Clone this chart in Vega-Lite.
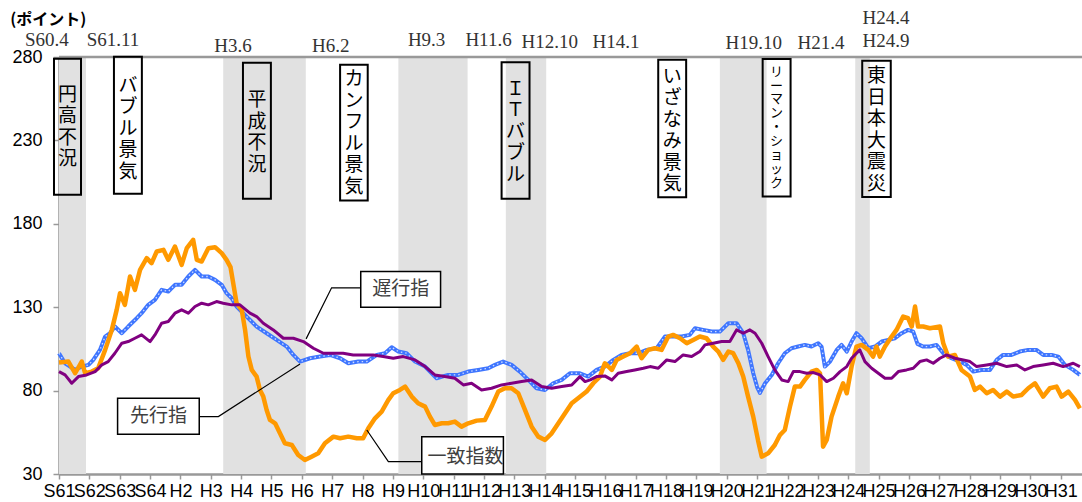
{
  "$schema": "https://vega.github.io/schema/vega-lite/v6.json",
  "width": 1023,
  "height": 417,
  "autosize": "none",
  "padding": {"left": 59, "top": 57, "right": 0, "bottom": 28},
  "background": "white",
  "config": {"view": {"stroke": null}},
  "datasets": {
    "coincident": [
      {"t":1986.0,"v":96.8},{"t":1986.31,"v":97.4},{"t":1986.53,"v":90.4},{"t":1986.75,"v":97.4},{"t":1986.86,"v":90.4},{"t":1987.08,"v":91.4},{"t":1987.29,"v":93.4},{"t":1987.52,"v":104.4},{"t":1987.74,"v":116.4},{"t":1987.9,"v":128.4},{"t":1988.01,"v":138.4},{"t":1988.17,"v":131.4},{"t":1988.34,"v":148.4},{"t":1988.5,"v":140.4},{"t":1988.67,"v":152.4},{"t":1988.89,"v":159.4},{"t":1989.05,"v":156.4},{"t":1989.22,"v":163.4},{"t":1989.44,"v":164.4},{"t":1989.6,"v":158.4},{"t":1989.82,"v":166.4},{"t":1990.04,"v":155.4},{"t":1990.21,"v":165.4},{"t":1990.42,"v":170.4},{"t":1990.54,"v":158.4},{"t":1990.7,"v":157.4},{"t":1990.92,"v":165.4},{"t":1991.14,"v":166},{"t":1991.36,"v":162.4},{"t":1991.52,"v":158.4},{"t":1991.65,"v":154},{"t":1991.85,"v":132.4},{"t":1992.02,"v":128.4},{"t":1992.13,"v":116.4},{"t":1992.24,"v":100.4},{"t":1992.35,"v":92.4},{"t":1992.51,"v":88.4},{"t":1992.62,"v":80.4},{"t":1992.73,"v":76.4},{"t":1992.84,"v":68.4},{"t":1992.95,"v":62.4},{"t":1993.12,"v":60.4},{"t":1993.28,"v":54.4},{"t":1993.44,"v":48.4},{"t":1993.67,"v":47.4},{"t":1993.88,"v":41.4},{"t":1994.1,"v":38.4},{"t":1994.32,"v":40.4},{"t":1994.54,"v":42.4},{"t":1994.76,"v":48.4},{"t":1995.04,"v":52.4},{"t":1995.26,"v":51.4},{"t":1995.53,"v":52.4},{"t":1995.81,"v":51.4},{"t":1996.02,"v":51.4},{"t":1996.19,"v":57.4},{"t":1996.41,"v":63.4},{"t":1996.63,"v":67.4},{"t":1996.85,"v":74.4},{"t":1997.01,"v":78.4},{"t":1997.23,"v":80.4},{"t":1997.4,"v":82.4},{"t":1997.62,"v":76.4},{"t":1997.83,"v":72.4},{"t":1998.06,"v":70.4},{"t":1998.22,"v":64.4},{"t":1998.38,"v":59.4},{"t":1998.61,"v":60.4},{"t":1998.82,"v":60.4},{"t":1999.04,"v":61.4},{"t":1999.26,"v":58.4},{"t":1999.48,"v":60.4},{"t":1999.76,"v":62},{"t":2000.03,"v":62.4},{"t":2000.25,"v":70.4},{"t":2000.47,"v":79.4},{"t":2000.69,"v":81.4},{"t":2000.91,"v":81.4},{"t":2001.13,"v":78.4},{"t":2001.35,"v":68.4},{"t":2001.57,"v":58.4},{"t":2001.79,"v":52.4},{"t":2002.01,"v":50.4},{"t":2002.23,"v":54.4},{"t":2002.45,"v":60.4},{"t":2002.67,"v":66.4},{"t":2002.89,"v":72.4},{"t":2003.1,"v":75.4},{"t":2003.38,"v":79.4},{"t":2003.6,"v":84.4},{"t":2003.82,"v":88.4},{"t":2003.98,"v":96.4},{"t":2004.21,"v":92.4},{"t":2004.37,"v":98.4},{"t":2004.59,"v":100.4},{"t":2004.81,"v":102.4},{"t":2005.03,"v":106.4},{"t":2005.19,"v":99.4},{"t":2005.41,"v":104.4},{"t":2005.63,"v":105.4},{"t":2005.85,"v":104.4},{"t":2006.07,"v":112.4},{"t":2006.23,"v":113.4},{"t":2006.46,"v":111.4},{"t":2006.68,"v":108.4},{"t":2006.89,"v":110.4},{"t":2007.11,"v":112.4},{"t":2007.33,"v":111.4},{"t":2007.55,"v":106.4},{"t":2007.72,"v":103.4},{"t":2007.88,"v":98.4},{"t":2008.05,"v":103.4},{"t":2008.21,"v":102.4},{"t":2008.38,"v":96.4},{"t":2008.54,"v":88.4},{"t":2008.7,"v":76.4},{"t":2008.87,"v":64.4},{"t":2009.03,"v":50},{"t":2009.15,"v":40.4},{"t":2009.36,"v":42.4},{"t":2009.58,"v":47.4},{"t":2009.75,"v":53.4},{"t":2009.91,"v":56.4},{"t":2010.08,"v":70.4},{"t":2010.24,"v":82.4},{"t":2010.41,"v":82.4},{"t":2010.57,"v":86.4},{"t":2010.79,"v":91.4},{"t":2010.96,"v":92.4},{"t":2011.07,"v":90.4},{"t":2011.17,"v":46.4},{"t":2011.29,"v":50.4},{"t":2011.45,"v":64.4},{"t":2011.67,"v":76.4},{"t":2011.83,"v":84.4},{"t":2011.95,"v":78.4},{"t":2012.11,"v":94.4},{"t":2012.27,"v":106.4},{"t":2012.44,"v":107.4},{"t":2012.66,"v":104.4},{"t":2012.82,"v":100.4},{"t":2012.93,"v":106.4},{"t":2013.04,"v":100.4},{"t":2013.21,"v":106.4},{"t":2013.43,"v":112.4},{"t":2013.59,"v":116.4},{"t":2013.81,"v":124.4},{"t":2013.97,"v":123.4},{"t":2014.09,"v":118.4},{"t":2014.2,"v":130.4},{"t":2014.3,"v":118.4},{"t":2014.47,"v":118.4},{"t":2014.69,"v":117.4},{"t":2015.02,"v":118.4},{"t":2015.13,"v":108.4},{"t":2015.29,"v":100.4},{"t":2015.51,"v":101.4},{"t":2015.73,"v":92.4},{"t":2016.01,"v":88.4},{"t":2016.17,"v":80.4},{"t":2016.34,"v":82.4},{"t":2016.56,"v":78.4},{"t":2016.77,"v":80.4},{"t":2017.0,"v":76.4},{"t":2017.22,"v":79.4},{"t":2017.43,"v":76.4},{"t":2017.71,"v":77.4},{"t":2017.93,"v":81.4},{"t":2018.15,"v":84.4},{"t":2018.42,"v":76.4},{"t":2018.64,"v":81.4},{"t":2018.86,"v":82.4},{"t":2019.03,"v":76.4},{"t":2019.25,"v":79.4},{"t":2019.47,"v":74.4},{"t":2019.63,"v":69.4}
    ],
    "leading": [
      {"t":1986.0,"v":102.4},{"t":1986.2,"v":96.4},{"t":1986.53,"v":92.4},{"t":1986.75,"v":94.4},{"t":1986.97,"v":95.4},{"t":1987.13,"v":98.4},{"t":1987.35,"v":104.4},{"t":1987.52,"v":112.4},{"t":1987.68,"v":114.4},{"t":1987.84,"v":118.4},{"t":1988.07,"v":114.4},{"t":1988.28,"v":118.4},{"t":1988.56,"v":123.4},{"t":1988.72,"v":126.4},{"t":1988.94,"v":131.4},{"t":1989.16,"v":134.4},{"t":1989.38,"v":140.4},{"t":1989.6,"v":139.4},{"t":1989.82,"v":143.4},{"t":1990.04,"v":143.4},{"t":1990.26,"v":148.4},{"t":1990.48,"v":152.4},{"t":1990.7,"v":148.4},{"t":1990.92,"v":148.4},{"t":1991.14,"v":146.4},{"t":1991.36,"v":143.4},{"t":1991.52,"v":138.4},{"t":1991.69,"v":135.4},{"t":1991.85,"v":130.4},{"t":1992.18,"v":124.4},{"t":1992.51,"v":118.4},{"t":1992.84,"v":114.4},{"t":1993.17,"v":110.4},{"t":1993.5,"v":106.4},{"t":1993.72,"v":101.4},{"t":1993.94,"v":97.4},{"t":1994.27,"v":99.4},{"t":1994.6,"v":100.4},{"t":1994.93,"v":101.4},{"t":1995.26,"v":99.4},{"t":1995.53,"v":96.4},{"t":1995.86,"v":97.4},{"t":1996.14,"v":97.4},{"t":1996.47,"v":101.4},{"t":1996.74,"v":102.4},{"t":1996.96,"v":106},{"t":1997.18,"v":103.4},{"t":1997.45,"v":102.4},{"t":1997.73,"v":97.4},{"t":1998.06,"v":94.4},{"t":1998.44,"v":87.4},{"t":1998.82,"v":89.4},{"t":1999.15,"v":89.4},{"t":1999.48,"v":91.4},{"t":1999.81,"v":92.4},{"t":2000.14,"v":93.4},{"t":2000.36,"v":95.4},{"t":2000.63,"v":97.4},{"t":2000.91,"v":95.4},{"t":2001.18,"v":91.4},{"t":2001.46,"v":86.4},{"t":2001.73,"v":81.4},{"t":2002.01,"v":80.4},{"t":2002.28,"v":84.4},{"t":2002.56,"v":86.4},{"t":2002.83,"v":90.4},{"t":2003.16,"v":90.4},{"t":2003.43,"v":88.4},{"t":2003.71,"v":92.4},{"t":2003.98,"v":94.4},{"t":2004.26,"v":98.4},{"t":2004.53,"v":101.4},{"t":2004.81,"v":102.4},{"t":2005.08,"v":102.4},{"t":2005.36,"v":104.4},{"t":2005.69,"v":105.4},{"t":2005.96,"v":112.4},{"t":2006.23,"v":112.4},{"t":2006.51,"v":112.4},{"t":2006.78,"v":113.4},{"t":2006.95,"v":117.4},{"t":2007.22,"v":116.4},{"t":2007.5,"v":115.4},{"t":2007.77,"v":115.4},{"t":2008.05,"v":120.4},{"t":2008.32,"v":120.4},{"t":2008.54,"v":114.4},{"t":2008.7,"v":104.4},{"t":2008.87,"v":90.4},{"t":2009.0,"v":82},{"t":2009.09,"v":78.6},{"t":2009.26,"v":84.4},{"t":2009.48,"v":89.4},{"t":2009.69,"v":96.4},{"t":2009.91,"v":102.4},{"t":2010.13,"v":105.4},{"t":2010.35,"v":106.4},{"t":2010.57,"v":107.4},{"t":2010.79,"v":106.4},{"t":2011.01,"v":108.4},{"t":2011.12,"v":106.4},{"t":2011.23,"v":94.4},{"t":2011.4,"v":97.4},{"t":2011.62,"v":104.4},{"t":2011.78,"v":107.4},{"t":2011.95,"v":103.4},{"t":2012.11,"v":109.4},{"t":2012.27,"v":114.4},{"t":2012.44,"v":111.4},{"t":2012.66,"v":105.4},{"t":2012.88,"v":106.4},{"t":2013.1,"v":109.4},{"t":2013.32,"v":110.4},{"t":2013.54,"v":111.4},{"t":2013.76,"v":114.4},{"t":2013.97,"v":116.4},{"t":2014.14,"v":115.4},{"t":2014.28,"v":108},{"t":2014.47,"v":106.4},{"t":2014.69,"v":106.4},{"t":2014.91,"v":107.4},{"t":2015.13,"v":102.4},{"t":2015.4,"v":99.4},{"t":2015.68,"v":97.4},{"t":2015.9,"v":95.4},{"t":2016.12,"v":91.4},{"t":2016.39,"v":92.4},{"t":2016.67,"v":92.4},{"t":2016.89,"v":98.4},{"t":2017.1,"v":101.4},{"t":2017.38,"v":101.4},{"t":2017.65,"v":103.4},{"t":2017.93,"v":104.4},{"t":2018.2,"v":104.4},{"t":2018.42,"v":101.4},{"t":2018.7,"v":101.4},{"t":2018.92,"v":100.4},{"t":2019.14,"v":95.4},{"t":2019.41,"v":92.4},{"t":2019.63,"v":89.4}
    ],
    "lagging": [
      {"t":1986.0,"v":91.4},{"t":1986.2,"v":89.4},{"t":1986.42,"v":84.4},{"t":1986.64,"v":88.4},{"t":1986.91,"v":89.4},{"t":1987.19,"v":91.4},{"t":1987.41,"v":95.4},{"t":1987.62,"v":97.4},{"t":1987.84,"v":102.4},{"t":1988.07,"v":108.4},{"t":1988.28,"v":109.4},{"t":1988.5,"v":111.4},{"t":1988.72,"v":113.4},{"t":1989.0,"v":109.4},{"t":1989.16,"v":113.4},{"t":1989.38,"v":120.4},{"t":1989.6,"v":121.4},{"t":1989.82,"v":126.4},{"t":1990.04,"v":128.4},{"t":1990.26,"v":126.4},{"t":1990.48,"v":130.4},{"t":1990.7,"v":132.4},{"t":1990.92,"v":131.4},{"t":1991.19,"v":133.4},{"t":1991.41,"v":132.4},{"t":1991.69,"v":131.4},{"t":1991.96,"v":131.4},{"t":1992.29,"v":126.4},{"t":1992.51,"v":124.4},{"t":1992.73,"v":120.4},{"t":1993.06,"v":116.4},{"t":1993.39,"v":111.4},{"t":1993.72,"v":111.4},{"t":1994.05,"v":109.4},{"t":1994.38,"v":105.4},{"t":1994.71,"v":102.4},{"t":1995.04,"v":102.4},{"t":1995.36,"v":102.4},{"t":1995.69,"v":101.4},{"t":1996.02,"v":101.4},{"t":1996.35,"v":101.4},{"t":1996.68,"v":100.4},{"t":1997.01,"v":99.4},{"t":1997.34,"v":100.4},{"t":1997.73,"v":98.4},{"t":1998.06,"v":94.4},{"t":1998.38,"v":89.4},{"t":1998.71,"v":88.4},{"t":1999.04,"v":87.4},{"t":1999.32,"v":83.4},{"t":1999.59,"v":84.4},{"t":1999.92,"v":80.4},{"t":2000.25,"v":81.4},{"t":2000.58,"v":83.4},{"t":2000.91,"v":84.4},{"t":2001.24,"v":85.4},{"t":2001.57,"v":86.4},{"t":2001.9,"v":82.4},{"t":2002.23,"v":81.4},{"t":2002.56,"v":82.4},{"t":2002.89,"v":83.4},{"t":2003.16,"v":88.4},{"t":2003.33,"v":85.4},{"t":2003.5,"v":86.4},{"t":2003.71,"v":88.4},{"t":2003.98,"v":88.8},{"t":2004.21,"v":86.4},{"t":2004.42,"v":90.4},{"t":2004.7,"v":91.4},{"t":2004.97,"v":92.4},{"t":2005.25,"v":93.4},{"t":2005.47,"v":94.4},{"t":2005.74,"v":93.4},{"t":2006.02,"v":98.4},{"t":2006.29,"v":97.4},{"t":2006.56,"v":101.4},{"t":2006.84,"v":100.4},{"t":2007.11,"v":103.4},{"t":2007.28,"v":107.4},{"t":2007.55,"v":108.4},{"t":2007.83,"v":109.4},{"t":2008.1,"v":109.4},{"t":2008.32,"v":116.4},{"t":2008.54,"v":114.4},{"t":2008.76,"v":116.4},{"t":2008.93,"v":114.4},{"t":2009.15,"v":108.4},{"t":2009.36,"v":100.4},{"t":2009.58,"v":92.4},{"t":2009.81,"v":86.4},{"t":2010.02,"v":85.4},{"t":2010.19,"v":91.4},{"t":2010.41,"v":91.4},{"t":2010.63,"v":90.4},{"t":2010.85,"v":90.8},{"t":2011.07,"v":89.4},{"t":2011.29,"v":85.4},{"t":2011.51,"v":87.4},{"t":2011.73,"v":91.4},{"t":2011.95,"v":94.4},{"t":2012.11,"v":99.4},{"t":2012.38,"v":104.4},{"t":2012.55,"v":97.4},{"t":2012.77,"v":93.4},{"t":2012.99,"v":90.4},{"t":2013.21,"v":87.4},{"t":2013.43,"v":87.4},{"t":2013.65,"v":91.4},{"t":2013.92,"v":92.4},{"t":2014.14,"v":93.4},{"t":2014.36,"v":97.4},{"t":2014.58,"v":98.4},{"t":2014.8,"v":96.4},{"t":2015.02,"v":99.4},{"t":2015.24,"v":101.4},{"t":2015.51,"v":99.4},{"t":2015.79,"v":98.4},{"t":2016.01,"v":97.4},{"t":2016.23,"v":94.4},{"t":2016.56,"v":95.4},{"t":2016.89,"v":96.4},{"t":2017.22,"v":94.4},{"t":2017.55,"v":95.4},{"t":2017.82,"v":92.4},{"t":2018.09,"v":94.4},{"t":2018.42,"v":95.4},{"t":2018.75,"v":96.4},{"t":2019.08,"v":94.4},{"t":2019.41,"v":96.4},{"t":2019.63,"v":94.4}
    ],
    "recessions": [
      {"t":1986.0,"t2":1986.89,"v":30,"v2":280},
      {"t":1991.41,"t2":1994.13,"v":30,"v2":280},
      {"t":1997.18,"t2":1999.46,"v":30,"v2":280},
      {"t":2000.72,"t2":2002.05,"v":30,"v2":280},
      {"t":2007.77,"t2":2009.31,"v":30,"v2":280},
      {"t":2012.23,"t2":2012.71,"v":30,"v2":280}
    ],
    "topLine": [
      {"t":1986.0,"v":280},{"t":2019.7,"v":280}
    ],
    "periodLabels": [
      {"t":1985.6,"v":290.4,"label":"S60.4"},
      {"t":1987.78,"v":290.4,"label":"S61.11"},
      {"t":1991.73,"v":286.8,"label":"H3.6"},
      {"t":1994.95,"v":286.8,"label":"H6.2"},
      {"t":1998.11,"v":290.4,"label":"H9.3"},
      {"t":2000.15,"v":290.4,"label":"H11.6"},
      {"t":2002.17,"v":288.9,"label":"H12.10"},
      {"t":2004.35,"v":289.2,"label":"H14.1"},
      {"t":2008.89,"v":288.6,"label":"H19.10"},
      {"t":2011.1,"v":288.6,"label":"H21.4"},
      {"t":2013.24,"v":303.4,"label":"H24.4"},
      {"t":2013.24,"v":289.4,"label":"H24.9"}
    ],
    "eventBoxes": [
      {"t":1985.835,"t2":1986.725,"v":279,"v2":197.4},
      {"t":1987.81,"t2":1988.73,"v":280.2,"v2":198},
      {"t":1992.06,"t2":1992.98,"v":276.6,"v2":195},
      {"t":1995.26,"t2":1996.17,"v":275.4,"v2":194},
      {"t":2000.58,"t2":2001.5,"v":276.8,"v2":195},
      {"t":2005.74,"t2":2006.66,"v":278.4,"v2":195.9},
      {"t":2009.18,"t2":2010.1,"v":278.8,"v2":196.4},
      {"t":2012.46,"t2":2013.4,"v":277.8,"v2":196}
    ],
    "eventText": [
      {"t":1986.28,"v":257.25,"label":"円\n高\n不\n況"},
      {"t":1988.27,"v":262.8,"label":"バ\nブ\nル\n景\n気"},
      {"t":1992.52,"v":253.95,"label":"平\n成\n不\n況"},
      {"t":1995.72,"v":266.55,"label":"カ\nン\nフ\nル\n景\n気"},
      {"t":2001.04,"v":261,"label":"Ｉ\nＴ\nバ\nブ\nル"},
      {"t":2006.2,"v":268.05,"label":"い\nざ\nな\nみ\n景\n気"},
      {"t":2012.93,"v":268.35,"label":"東\n日\n本\n大\n震\n災"}
    ],
    "eventTextSmall": [
      {"t":2009.64,"v":271.2,"label":"リ\nー\nマ\nン\n・\nシ\nョ\nッ\nク"}
    ],
    "calloutBoxes": [
      {"t":1995.94,"t2":1998.57,"v":151.4,"v2":130},
      {"t":1987.93,"t2":1990.62,"v":75.4,"v2":53.8},
      {"t":1997.95,"t2":2000.64,"v":52.4,"v2":30}
    ],
    "calloutText": [
      {"t":1997.26,"v":140.7,"label":"遅行指"},
      {"t":1989.28,"v":64.6,"label":"先行指"},
      {"t":1999.39,"v":40.4,"label":"一致指数"}
    ],
    "leaders": [
      {"id":"a","o":1,"t":1995.94,"v":141.6},
      {"id":"a","o":2,"t":1994.98,"v":141.6},
      {"id":"a","o":3,"t":1994.14,"v":111},
      {"id":"b","o":1,"t":1990.62,"v":64.4},
      {"id":"b","o":2,"t":1991.25,"v":64.4},
      {"id":"b","o":3,"t":1993.94,"v":96},
      {"id":"c","o":1,"t":1997.95,"v":37.4},
      {"id":"c","o":2,"t":1996.85,"v":37.4},
      {"id":"c","o":3,"t":1996.14,"v":56.4}
    ],
    "unit": [
      {"t":1984.39,"v":302.4,"label":"(ポイント)"}
    ]
  },
  "encoding": {
    "x": {
      "field": "t", "type": "quantitative",
      "scale": {"domain": [1986, 2019.7], "nice": false, "zero": false},
      "axis": {
        "title": null, "values": [1986,1987,1988,1989,1990,1991,1992,1993,1994,1995,1996,1997,1998,1999,2000,2001,2002,2003,2004,2005,2006,2007,2008,2009,2010,2011,2012,2013,2014,2015,2016,2017,2018,2019],
        "labelExpr": "datum.value < 1989.5 ? 'S' + (datum.value - 1925) : 'H' + (datum.value - 1988)",
        "labelOverlap": false, "labelBound": false, "labelFlush": false,
        "labelFont": "Liberation Sans", "labelFontSize": 18, "labelColor": "#000000",
        "labelPadding": 3, "tickSize": 5, "tickColor": "#999999", "tickWidth": 1.5,
        "domainColor": "#999999", "domainWidth": 2.5, "grid": false
      }
    },
    "y": {
      "field": "v", "type": "quantitative",
      "scale": {"domain": [30, 280], "nice": false, "zero": false},
      "axis": {
        "title": null, "values": [30,80,130,180,230,280],
        "labelFont": "Liberation Sans", "labelFontSize": 18, "labelColor": "#000000",
        "labelPadding": 11, "tickSize": 6, "tickColor": "#999999", "tickWidth": 1.5,
        "domainColor": "#999999", "domainWidth": 2.5, "grid": false
      }
    }
  },
  "layer": [
    {
      "data": {"name": "recessions"},
      "mark": {"type": "rect", "fill": "#e1e1e1"},
      "encoding": {"x2": {"field": "t2"}, "y2": {"field": "v2"}}
    },
    {
      "data": {"name": "topLine"},
      "mark": {"type": "line", "color": "#999999", "strokeWidth": 2.5}
    },
    {
      "data": {"name": "leading"},
      "mark": {"type": "line", "color": "#3f76ff", "strokeWidth": 4, "strokeJoin": "round"}
    },
    {
      "data": {"name": "leading"},
      "mark": {"type": "line", "color": "#ffffff", "strokeWidth": 1.3, "strokeDash": [1.5, 3], "opacity": 0.75}
    },
    {
      "data": {"name": "coincident"},
      "mark": {"type": "line", "color": "#ff9900", "strokeWidth": 4.5, "strokeJoin": "round"}
    },
    {
      "data": {"name": "lagging"},
      "mark": {"type": "line", "color": "#800080", "strokeWidth": 3, "strokeJoin": "round"}
    },
    {
      "data": {"name": "eventBoxes"},
      "mark": {"type": "rect", "fill": null, "stroke": "#000000", "strokeWidth": 2},
      "encoding": {"x2": {"field": "t2"}, "y2": {"field": "v2"}}
    },
    {
      "data": {"name": "eventText"},
      "mark": {"type": "text", "font": "Noto Sans CJK JP", "fontSize": 19, "lineHeight": 21.5, "lineBreak": "\n", "align": "center", "baseline": "middle", "color": "#000000"},
      "encoding": {"text": {"field": "label"}}
    },
    {
      "data": {"name": "eventTextSmall"},
      "mark": {"type": "text", "font": "Noto Sans CJK JP", "fontSize": 13, "lineHeight": 13.9, "lineBreak": "\n", "align": "center", "baseline": "middle", "color": "#000000"},
      "encoding": {"text": {"field": "label"}}
    },
    {
      "data": {"name": "periodLabels"},
      "mark": {"type": "text", "font": "Liberation Serif", "fontSize": 19, "align": "center", "baseline": "middle", "color": "#333333"},
      "encoding": {"text": {"field": "label"}}
    },
    {
      "data": {"name": "unit"},
      "mark": {"type": "text", "font": "Noto Sans CJK JP", "fontSize": 16, "fontWeight": "bold", "align": "left", "baseline": "middle", "color": "#000000"},
      "encoding": {"text": {"field": "label"}}
    },
    {
      "data": {"name": "leaders"},
      "mark": {"type": "line", "color": "#000000", "strokeWidth": 1.2},
      "encoding": {
        "detail": {"field": "id"},
        "order": {"field": "o", "type": "quantitative"}
      }
    },
    {
      "data": {"name": "calloutBoxes"},
      "mark": {"type": "rect", "fill": "#ffffff", "stroke": "#000000", "strokeWidth": 1.5},
      "encoding": {"x2": {"field": "t2"}, "y2": {"field": "v2"}}
    },
    {
      "data": {"name": "calloutText"},
      "mark": {"type": "text", "font": "Noto Sans CJK JP", "fontSize": 19, "align": "center", "baseline": "middle", "color": "#404040"},
      "encoding": {"text": {"field": "label"}}
    }
  ]
}
